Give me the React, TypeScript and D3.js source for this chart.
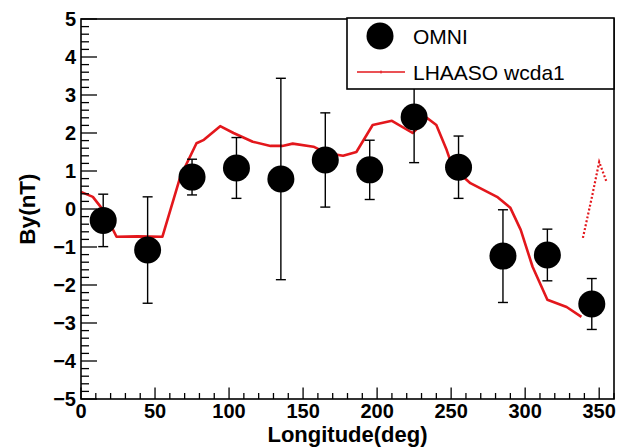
import React from "react";
import * as d3 from "d3";

// OMNI points
const omniLon = [15, 45, 75, 105, 135, 165, 195, 225, 255, 285, 315, 345];
const omniBy = [-0.3, -1.08, 0.84, 1.08, 0.79, 1.29, 1.03, 2.42, 1.1, -1.24, -1.21, -2.5];
const omniErr = [0.69, 1.4, 0.47, 0.8, 2.65, 1.24, 0.78, 1.2, 0.82, 1.22, 0.68, 0.67];

// LHAASO wcda1 curve (main part)
const lhaasoLon = [0, 8, 15, 24, 38, 55, 67, 78, 83, 94, 103, 116, 128, 136, 143, 157, 166, 177, 186, 197, 210, 224, 234, 240, 247, 251, 263, 281, 290, 297, 305, 315, 328, 338];
const lhaasoBy = [0.45, 0.32, -0.03, -0.73, -0.72, -0.73, 0.84, 1.73, 1.82, 2.18, 2.0, 1.77, 1.66, 1.66, 1.72, 1.64, 1.47, 1.4, 1.5, 2.21, 2.32, 2.0, 2.39, 2.21, 1.55, 1.1, 0.68, 0.32, 0.03, -0.55, -1.52, -2.39, -2.58, -2.84];
// LHAASO wcda1 curve (tail)
const tailLon = [339, 345, 350, 355];
const tailBy = [-0.76, 0.3, 1.24, 0.71];

const xMajor = [0, 50, 100, 150, 200, 250, 300, 350];
const yMajor = [-5, -4, -3, -2, -1, 0, 1, 2, 3, 4, 5];

const RED = "#e3171c";
const FONT = "'Liberation Sans', Arial, Helvetica, sans-serif";

export default function App() {
  const L = 81, R = 614, T = 19, B = 399;
  const x = d3.scaleLinear().domain([0, 360]).range([L, R]);
  const y = d3.scaleLinear().domain([-5, 5]).range([B, T]);

  const xMinor = d3.range(0, 361, 10).filter((v) => v % 50 !== 0);
  const yMinor = d3.range(-50, 51, 2).map((v) => v / 10).filter((v) => Math.abs(v - Math.round(v)) > 1e-6);

  const line = d3.line<[number, number]>().x((d) => x(d[0])).y((d) => y(d[1]));
  const mainPts: [number, number][] = lhaasoLon.map((v, i) => [v, lhaasoBy[i]]);
  const tailPts: [number, number][] = tailLon.map((v, i) => [v, tailBy[i]]);

  const fmt = (v: number) => (v < 0 ? "\u2212" + Math.abs(v) : String(v));

  return (
    <svg width={619} height={448} style={{ position: "absolute", left: 0, top: 0, background: "#fff" }} fontFamily={FONT}>
      <rect x={0} y={0} width={619} height={448} fill="#fff" />
      {/* curve */}
      <path d={line(mainPts) || ""} fill="none" stroke={RED} strokeWidth={2.6} strokeLinejoin="round" />
      <path d={line(tailPts) || ""} fill="none" stroke={RED} strokeWidth={2.2} strokeDasharray="2 2" />
      {/* error bars */}
      {omniLon.map((lon, i) => {
        const cx = x(lon);
        const y1 = y(omniBy[i] + omniErr[i]);
        const y2 = y(omniBy[i] - omniErr[i]);
        return (
          <g key={"e" + i} stroke="#000" strokeWidth={1.4}>
            <line x1={cx} x2={cx} y1={y1} y2={y2} />
            <line x1={cx - 5} x2={cx + 5} y1={y1} y2={y1} />
            <line x1={cx - 5} x2={cx + 5} y1={y2} y2={y2} />
          </g>
        );
      })}
      {omniLon.map((lon, i) => (
        <circle key={"m" + i} cx={x(lon)} cy={y(omniBy[i])} r={13.5} fill="#000" />
      ))}
      {/* frame */}
      <rect x={L} y={T} width={R - L} height={B - T} fill="none" stroke="#000" strokeWidth={1.6} />
      {/* x ticks */}
      {xMajor.map((v) => (
        <line key={"xM" + v} x1={x(v)} x2={x(v)} y1={B} y2={B - 11.5} stroke="#000" strokeWidth={1.3} />
      ))}
      {xMinor.map((v) => (
        <line key={"xm" + v} x1={x(v)} x2={x(v)} y1={B} y2={B - 6} stroke="#000" strokeWidth={1.3} />
      ))}
      {yMajor.map((v) => (
        <line key={"yM" + v} x1={L} x2={L + 16} y1={y(v)} y2={y(v)} stroke="#000" strokeWidth={1.3} />
      ))}
      {yMinor.map((v) => (
        <line key={"ym" + v} x1={L} x2={L + 8} y1={y(v)} y2={y(v)} stroke="#000" strokeWidth={1.3} />
      ))}
      {/* tick labels */}
      {xMajor.map((v) => (
        <text key={"xl" + v} x={x(v)} y={418} textAnchor="middle" fontSize={20} fontWeight="bold">
          {v}
        </text>
      ))}
      {yMajor.map((v) => (
        <text key={"yl" + v} x={76} y={y(v) + 7} textAnchor="end" fontSize={20} fontWeight="bold">
          {fmt(v)}
        </text>
      ))}
      {/* axis titles */}
      <text x={(L + R) / 2} y={442} textAnchor="middle" fontSize={22} fontWeight="bold">
        Longitude(deg)
      </text>
      <text transform={`translate(35,${(T + B) / 2}) rotate(-90)`} textAnchor="middle" fontSize={22.5} fontWeight="bold">
        By(nT)
      </text>
      {/* legend */}
      <rect x={347} y={18} width={614 - 347} height={71} fill="#fff" stroke="#000" strokeWidth={1.6} />
      <circle cx={380} cy={36} r={13.5} fill="#000" />
      <text x={413} y={43.5} fontSize={21}>OMNI</text>
      <line x1={357} x2={405} y1={72} y2={72} stroke={RED} strokeWidth={1.3} />
      <line x1={381} x2={381} y1={70.5} y2={73.5} stroke={RED} strokeWidth={1} />
      <text x={413} y={80} fontSize={21}>LHAASO wcda1</text>
    </svg>
  );
}
